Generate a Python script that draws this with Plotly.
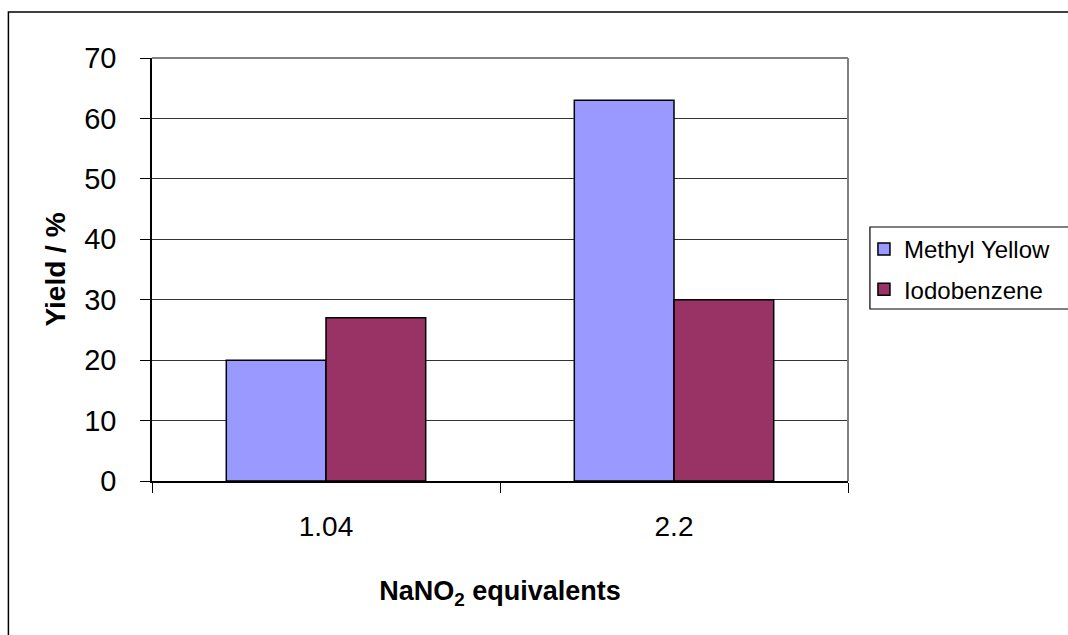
import plotly.graph_objects as go

# NaNO2 equivalents on the x axis, yields in percent
categories = ["1.04", "2.2"]
methyl_yellow = [20, 63]
iodobenzene = [27, 30]
series_names = ["Methyl Yellow", "Iodobenzene"]
y_ticks = [0, 10, 20, 30, 40, 50, 60, 70]

FONT = "Liberation Sans, Arial, sans-serif"

# plot area in pixels: x 152..850, y 58..481
W, H = 1068, 635
L, R, T, B = 152, 218, 58, 154
PW, PH = W - L - R, H - T - B


def px_x(px):
    return (px - L) / PW


def px_y(py):
    return (H - B - py) / PH


fig = go.Figure()
fig.add_trace(go.Bar(
    x=categories, y=methyl_yellow, name=series_names[0], legendgroup="a",
    marker=dict(color="#9999FF", line=dict(color="#000000", width=1.5)),
))
fig.add_trace(go.Bar(
    x=categories, y=iodobenzene, name=series_names[1], legendgroup="b",
    marker=dict(color="#993366", line=dict(color="#000000", width=1.5)),
))

shapes = [
    # outer chart frame (runs off the right and bottom edges)
    dict(type="rect", xref="paper", yref="paper",
         x0=px_x(8), x1=px_x(1090), y0=px_y(660), y1=px_y(12),
         line=dict(color="#000000", width=1.5), layer="below"),
    # top and right plot-area border
    dict(type="line", xref="paper", yref="paper",
         x0=0, x1=1, y0=1, y1=1, line=dict(color="#808080", width=2)),
    dict(type="line", xref="paper", yref="paper",
         x0=1, x1=1, y0=0, y1=1, line=dict(color="#808080", width=2)),
    # legend box
    dict(type="rect", xref="paper", yref="paper",
         x0=px_x(872), x1=px_x(1090), y0=px_y(309), y1=px_y(227),
         line=dict(color="#000000", width=1.2)),
]

fig.update_layout(
    width=W, height=H,
    margin=dict(l=L, r=R, t=T, b=B, pad=0),
    paper_bgcolor="white", plot_bgcolor="white",
    barmode="group", bargap=0.427, bargroupgap=0,
    font=dict(family=FONT, color="#000000"),
    showlegend=True,
    legend=dict(
        x=px_x(866), xanchor="left", y=px_y(227), yanchor="top",
        bgcolor="rgba(0,0,0,0)", borderwidth=0,
        font=dict(family=FONT, size=24, color="#000000"),
        tracegroupgap=6, itemwidth=30,
    ),
    shapes=shapes,
    xaxis=dict(
        type="category", range=[-0.5, 1.5],
        tickson="boundaries", ticks="outside", ticklen=10, tickwidth=1.2,
        tickcolor="#000000",
        showline=True, linecolor="#000000", linewidth=1.5,
        showgrid=False, zeroline=False,
        tickfont=dict(family=FONT, size=28, color="#000000"),
        ticklabelstandoff=20,
        title=dict(text="<b>NaNO<sub>2</sub> equivalents</b>",
                   font=dict(family=FONT, size=27, color="#000000"),
                   standoff=40),
    ),
    yaxis=dict(
        range=[0, 70], tickvals=y_ticks,
        ticks="outside", ticklen=10, tickwidth=1.2, tickcolor="#000000",
        showline=True, linecolor="#000000", linewidth=1.5,
        showgrid=True, gridcolor="#333333", gridwidth=1,
        zeroline=False,
        tickfont=dict(family=FONT, size=29, color="#000000"),
        ticklabelstandoff=18,
        title=dict(text="<b>Yield / %</b>",
                   font=dict(family=FONT, size=28, color="#000000"),
                   standoff=10),
    ),
)

fig.write_html("out.html")
